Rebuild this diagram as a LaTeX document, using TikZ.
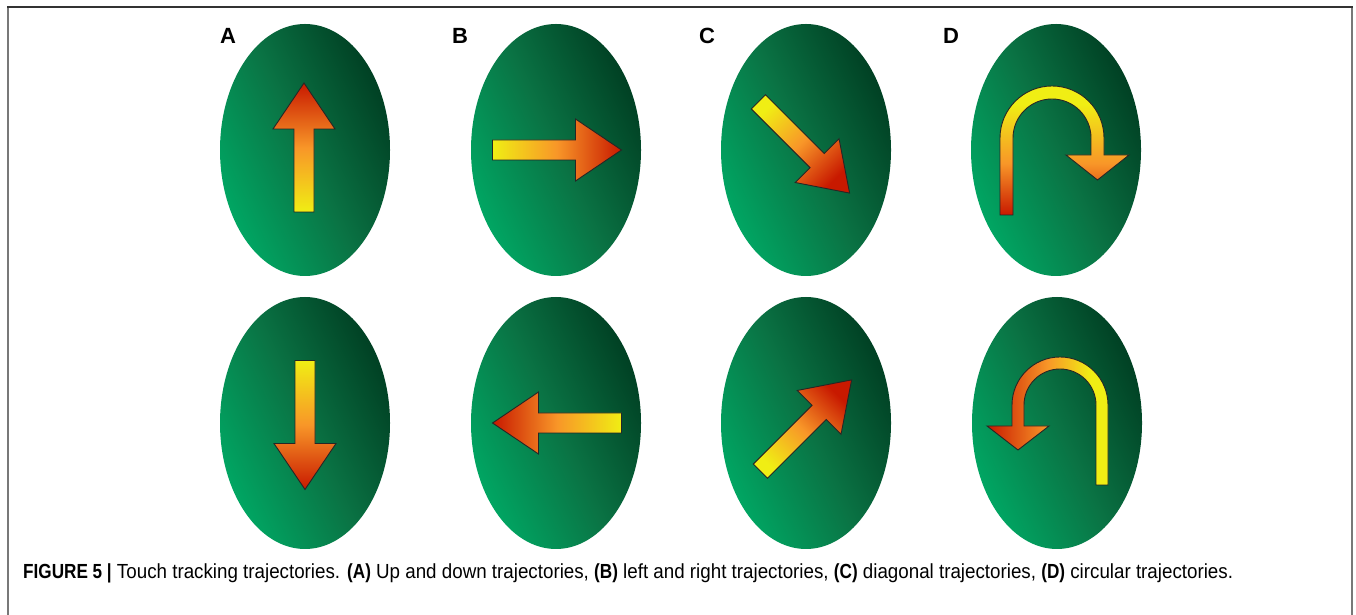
\documentclass[tikz,border=0pt]{standalone}
\usepackage{fontspec}
\setmainfont{Liberation Sans}
\newfontfamily\capfont[FakeStretch=0.92]{Liberation Sans}
\newfontfamily\capbold[FakeStretch=0.84]{Liberation Sans Bold}
\newfontfamily\lblfont{Liberation Sans}
\newcommand{\cb}[1]{{\capbold #1}}
\usetikzlibrary{shapes.geometric}
\definecolor{eggLight}{RGB}{0,168,100}
\definecolor{eggMid}{RGB}{10,115,68}
\definecolor{eggDark}{RGB}{0,62,34}
\definecolor{arrY}{RGB}{240,238,20}
\definecolor{arrO}{RGB}{248,150,40}
\definecolor{arrR}{RGB}{200,25,0}
\definecolor{frameTop}{RGB}{50,50,50}
\definecolor{frameSide}{RGB}{120,120,120}
\pgfdeclareverticalshading{dtopgrad}{100bp}{color(0bp)=(arrR); color(25bp)=(arrR); color(45bp)=(arrO); color(68bp)=(arrY); color(100bp)=(arrY)}
\pgfdeclarehorizontalshading{dbotgrad}{100bp}{color(0bp)=(arrR); color(25bp)=(arrR); color(50bp)=(arrO); color(68bp)=(arrY); color(100bp)=(arrY)}
\tikzset{
  egg/.style={shape=ellipse, minimum width=170pt, minimum height=252pt, inner sep=0pt,
    top color=eggDark, bottom color=eggLight, middle color=eggMid, shading angle=-65},
  arrowline/.style={draw=black!85, line width=0.9pt, line join=miter},
  lbl/.style={font=\lblfont\bfseries\fontsize{22}{24}\selectfont, anchor=base west, inner sep=0pt},
  framel/.style={line width=1.4pt},
}
% straight arrow: centre x, centre y, direction angle
\newcommand{\strarrow}[3]{%
  \pgfmathsetmacro{\shang}{#3-90}%
  \begin{scope}[shift={(#1,#2)}, rotate=#3]
    \shade[arrowline, top color=arrR, bottom color=arrY, middle color=arrO, shading angle=\shang]
      (-64.5,-10) -- (18.5,-10) -- (18.5,-31) -- (64.5,0) -- (18.5,31) -- (18.5,10) -- (-64.5,10) -- cycle;
  \end{scope}}
\begin{document}
\begin{tikzpicture}[x=1pt,y=1pt]
\useasboundingbox (0,0) rectangle (1356,615);
% frame
\draw[framel, frameSide] (8,0) -- (8,608);
\draw[framel, frameSide] (1352,0) -- (1352,608);
\draw[framel, frameTop] (7.3,608) -- (1352.7,608);
% eggs
\node[egg] (eA1) at (305,465) {};
\node[egg] (eB1) at (556,465) {};
\node[egg] (eC1) at (806,465) {};
\node[egg] (eD1) at (1056,465) {};
\node[egg] (eA2) at (305,192) {};
\node[egg] (eB2) at (556,192) {};
\node[egg] (eC2) at (806,192) {};
\node[egg] (eD2) at (1057,192) {};
% labels
\node[lbl] (lA) at (220,571) {A};
\node[lbl] (lB) at (452,571) {B};
\node[lbl] (lC) at (699,571) {C};
\node[lbl] (lD) at (943,571) {D};
% straight arrows
\strarrow{304}{467.5}{90}
\strarrow{305}{190}{-90}
\strarrow{557}{465}{0}
\strarrow{557}{192}{180}
\strarrow{804}{467.5}{-45}
\strarrow{806}{189.5}{45}
% D top U-turn arrow
\shade[arrowline, shading=dtopgrad]
  (1000,400) -- (1000,477) arc[start angle=180, end angle=0, radius=52] -- (1104,460)
  -- (1129,460) -- (1097.5,435) -- (1066,460) -- (1091,460) -- (1091,477)
  arc[start angle=0, end angle=180, radius=39] -- (1013,400) -- cycle;
% D bottom U-turn arrow
\shade[arrowline, shading=dbotgrad]
  (1108,130) -- (1108,210) arc[start angle=0, end angle=180, radius=48] -- (1012,189)
  -- (987,189) -- (1018,165) -- (1049,189) -- (1024,189) -- (1024,210)
  arc[start angle=180, end angle=0, radius=36] -- (1096,130) -- cycle;
% caption
\node[anchor=base west, inner sep=0pt, font=\capfont\fontsize{20.4}{22}\selectfont] (cap) at (23,36)
  {\cb{FIGURE 5 |} Touch tracking trajectories. \cb{(A)} Up and down trajectories, \cb{(B)} left and right trajectories, \cb{(C)} diagonal trajectories, \cb{(D)} circular trajectories.};
\end{tikzpicture}
\end{document}
